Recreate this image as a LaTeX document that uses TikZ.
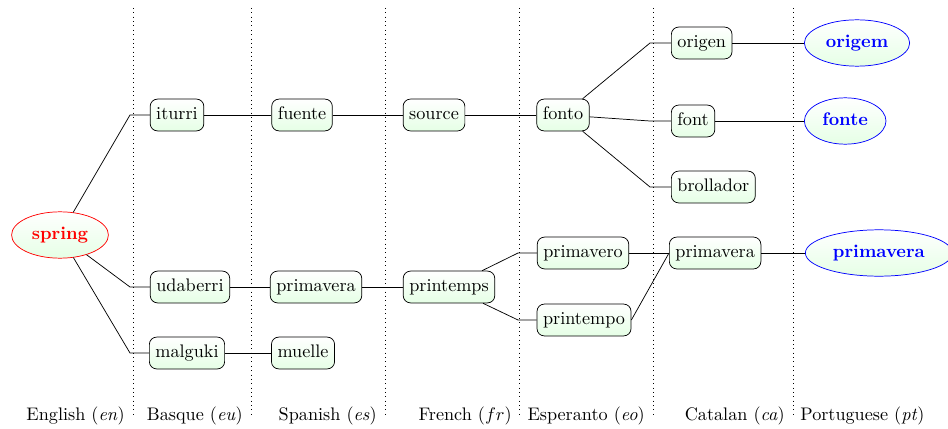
\documentclass[tikz,border=0pt]{standalone}
\usetikzlibrary{shapes.geometric}
\begin{document}
\begin{tikzpicture}[x=0.55pt,y=-0.55pt,
  word/.style={draw,rounded corners=4pt,top color=white,bottom color=green!10,
    minimum height=17.5pt,text height=6.9pt,text depth=1.9pt,inner sep=3.33pt},
  root/.style={ellipse,draw,top color=white,bottom color=green!10,
    minimum height=25.5pt,font=\bfseries,text height=6.9pt,text depth=1.9pt},
  lang/.style={font=\normalsize,inner sep=0pt},
  sep/.style={dotted}]
\useasboundingbox (0,0) rectangle (948,428);
% separators
\foreach \x/\n in {133/s1,251/s2,385/s3,519/s4,653/s5,793/s6}{
  \coordinate (\n t) at (\x,8);
  \coordinate (\n b) at (\x,414);
  \draw[sep] (\n t) -- (\n b);
}
% fork columns
\coordinate (c1) at (130,0);
\coordinate (c4) at (518,0);
\coordinate (c5) at (650,0);
% nodes
\node[root,draw=red,text=red] (spring) at (60,235) {spring};
\node[word] (iturri) at (177,115) {iturri};
\node[word] (udaberri) at (190,287) {udaberri};
\node[word] (malguki) at (187,353) {malguki};
\node[word] (fuente) at (302,115) {fuente};
\node[word] (primaveraES) at (316,287) {primavera};
\node[word] (muelle) at (303,353) {muelle};
\node[word] (source) at (434,115) {source};
\node[word] (printemps) at (449,287) {printemps};
\node[word] (fonto) at (563,115) {fonto};
\node[word] (primavero) at (583,253) {primavero};
\node[word] (printempo) at (584,320) {printempo};
\node[word,anchor=west] (origen) at (671,43) {origen};
\node[word,anchor=west] (font) at (671,121) {font};
\node[word,anchor=west] (brollador) at (671,187) {brollador};
\node[word,anchor=west] (primaveraCA) at (669,253) {primavera};
\node[root,draw=blue,text=blue,anchor=west] (origem) at (804,43) {origem};
\node[root,draw=blue,text=blue,anchor=west] (fonte) at (804,121) {fonte};
\node[root,draw=blue,text=blue,anchor=west] (primaveraPT) at (805,253) {primavera};
% connectors
\draw (spring) -- (c1 |- iturri) -- (iturri);
\draw (spring) -- (c1 |- udaberri) -- (udaberri);
\draw (spring) -- (c1 |- malguki) -- (malguki);
\draw (iturri) -- (fuente);
\draw (udaberri) -- (primaveraES);
\draw (malguki) -- (muelle);
\draw (fuente) -- (source);
\draw (primaveraES) -- (printemps);
\draw (source) -- (fonto);
\draw (printemps) -- (c4 |- primavero) -- (primavero);
\draw (printemps) -- (c4 |- printempo) -- (printempo);
\draw (fonto) -- (c5 |- origen) -- (origen);
\draw (fonto) -- (c5 |- font) -- (font);
\draw (fonto) -- (c5 |- brollador) -- (brollador);
\draw (primavero) -- (primaveraCA);
\draw (printempo.east) -- (primaveraCA.west);
\draw (origen) -- (origem);
\draw (font) -- (fonte);
\draw (primaveraCA) -- (primaveraPT);
% language labels
\node[lang,anchor=east] (en) at (125,416) {English (\textit{en})};
\node[lang,anchor=east] (eu) at (243,416) {Basque (\textit{eu})};
\node[lang,anchor=east] (es) at (377,416) {Spanish (\textit{es})};
\node[lang,anchor=east] (fr) at (512,416) {French (\textit{$fr$})};
\node[lang,anchor=east] (eo) at (645,416) {Esperanto (\textit{eo})};
\node[lang,anchor=east] (ca) at (785,416) {Catalan (\textit{ca})};
\node[lang,anchor=west] (pt) at (800,416) {Portuguese (\textit{pt})};
\end{tikzpicture}
\end{document}
